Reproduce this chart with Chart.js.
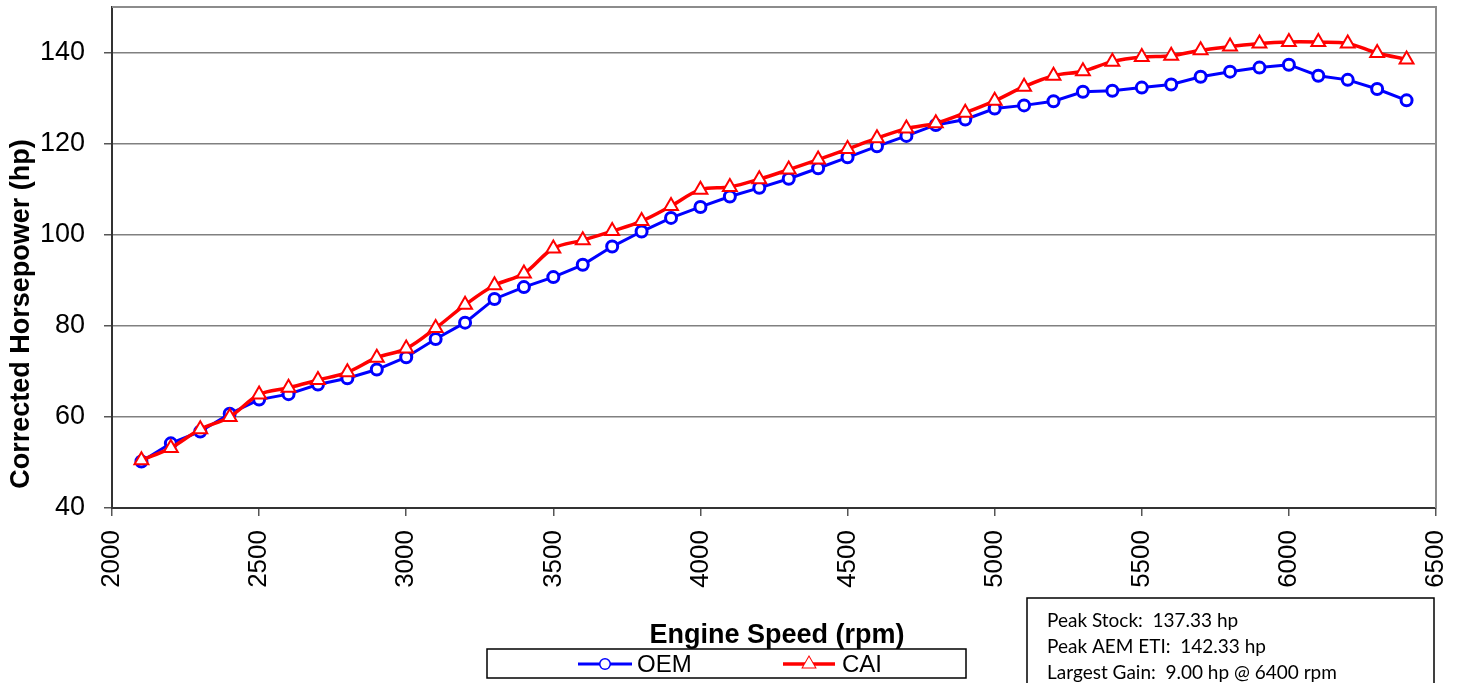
<!DOCTYPE html>
<html>
<head>
<meta charset="utf-8">
<script src="https://cdn.jsdelivr.net/npm/chart.js@4/dist/chart.umd.min.js"></script>
<style>
  html, body { margin: 0; padding: 0; background: #fff; }
  #dynoChart { display: block; }
</style>
</head>
<body>
<canvas id="dynoChart" width="1463" height="683"></canvas>
<script>
// Engine speed, rpm
const rpm = [
  2100, 2200, 2300, 2400, 2500, 2600, 2700, 2800, 2900, 3000, 3100,
  3200, 3300, 3400, 3500, 3600, 3700, 3800, 3900, 4000, 4100, 4200,
  4300, 4400, 4500, 4600, 4700, 4800, 4900, 5000, 5100, 5200, 5300,
  5400, 5500, 5600, 5700, 5800, 5900, 6000, 6100, 6200, 6300, 6400,
];

// Stock intake, hp
const oemHp = [
  50.2, 54.2, 56.8, 60.7, 63.8, 65.0, 67.1, 68.5, 70.4, 73.1, 77.1,
  80.7, 85.9, 88.5, 90.7, 93.4, 97.4, 100.7, 103.7, 106.1, 108.4, 110.3,
  112.3, 114.6, 117.0, 119.4, 121.7, 124.1, 125.3, 127.7, 128.4, 129.3, 131.4,
  131.6, 132.3, 133.0, 134.7, 135.8, 136.7, 137.33, 134.9, 134.0, 132.0, 129.5,
];

// Cold air intake, hp
const caiHp = [
  50.5, 53.2, 57.3, 60.0, 64.9, 66.4, 68.1, 69.8, 73.0, 75.0, 79.5,
  84.6, 88.9, 91.5, 97.0, 98.8, 100.8, 103.0, 106.3, 109.9, 110.5, 112.2,
  114.3, 116.5, 118.8, 121.2, 123.3, 124.5, 126.8, 129.4, 132.5, 134.9, 135.9,
  138.0, 139.0, 139.3, 140.5, 141.3, 142.0, 142.33, 142.3, 142.0, 139.9, 138.5,
];

const xTicks = [2000, 2500, 3000, 3500, 4000, 4500, 5000, 5500, 6000, 6500];
const yTicks = [40, 60, 80, 100, 120, 140];

const seriesNames = ["OEM", "CAI"];
const summaryLines = [
  "Peak Stock:  137.33 hp",
  "Peak AEM ETI:  142.33 hp",
  "Largest Gain:  9.00 hp @ 6400 rpm",
];

const AXIS_FONT = "Liberation Sans, Arial, sans-serif";

function toPoints(values) {
  return rpm.map((r, i) => ({ x: r, y: values[i] }));
}

// drop the label padding chart.js adds at the ends of each axis
function noEndPadding(scale) {
  scale.paddingTop = 0;
  scale.paddingBottom = 0;
  scale.paddingLeft = 0;
  scale.paddingRight = 0;
}

// Titles, plot frame, legend and notes box (Excel look)
const decorations = {
  id: "decorations",
  afterDraw(chart) {
    const { ctx, chartArea: a } = chart;
    ctx.save();

    // top and right frame of the plot area
    ctx.strokeStyle = "#8c8c8c";
    ctx.lineWidth = 2;
    ctx.beginPath();
    ctx.moveTo(a.left, a.top);
    ctx.lineTo(a.right, a.top);
    ctx.lineTo(a.right, a.bottom);
    ctx.stroke();

    // axis titles
    ctx.fillStyle = "#000";
    ctx.font = "bold 27px " + AXIS_FONT;
    ctx.textAlign = "center";
    ctx.textBaseline = "middle";
    ctx.fillText("Engine Speed (rpm)", 777, 636);

    ctx.save();
    ctx.translate(22, 314);
    ctx.rotate(-Math.PI / 2);
    ctx.fillText("Corrected Horsepower (hp)", 0, 0);
    ctx.restore();

    // legend
    ctx.strokeStyle = "#000";
    ctx.lineWidth = 1.5;
    ctx.strokeRect(487, 649, 479, 29);
    const ly = 664;
    const items = [
      { ds: chart.data.datasets[1], x0: 578, x1: 632, tx: 637 },
      { ds: chart.data.datasets[0], x0: 783, x1: 835, tx: 842 },
    ];
    items.forEach((it) => {
      ctx.strokeStyle = it.ds.borderColor;
      ctx.lineWidth = it.ds.borderWidth;
      ctx.beginPath();
      ctx.moveTo(it.x0, ly);
      ctx.lineTo(it.x1, ly);
      ctx.stroke();
      ctx.lineWidth = it.ds.pointBorderWidth;
      ctx.fillStyle = "#fff";
      Chart.helpers.drawPoint(ctx, {
        pointStyle: it.ds.pointStyle,
        radius: it.ds.pointRadius - 1,
        borderWidth: it.ds.pointBorderWidth,
      }, (it.x0 + it.x1) / 2, ly);
      ctx.fill();
      ctx.fillStyle = "#000";
      ctx.font = "24px " + AXIS_FONT;
      ctx.textAlign = "left";
      ctx.fillText(it.ds.label, it.tx, ly + 1);
    });

    // notes box
    ctx.strokeStyle = "#000";
    ctx.lineWidth = 1.5;
    ctx.strokeRect(1027, 598, 407, 100);
    ctx.fillStyle = "#000";
    ctx.font = "19px Lato, sans-serif";
    ctx.textAlign = "left";
    summaryLines.forEach((line, i) => {
      ctx.fillText(line, 1047, 621 + i * 26);
    });

    ctx.restore();
  },
};

const ctx = document.getElementById("dynoChart").getContext("2d");
new Chart(ctx, {
  type: "line",
  data: {
    datasets: [
      {
        label: seriesNames[1],
        data: toPoints(caiHp),
        borderColor: "#ff0000",
        borderWidth: 3.5,
        tension: 0.35,
        pointStyle: "triangle",
        pointRadius: 8,
        pointBorderWidth: 2,
        pointBorderColor: "#ff0000",
        pointBackgroundColor: "#fff",
        order: 0,
      },
      {
        label: seriesNames[0],
        data: toPoints(oemHp),
        borderColor: "#0000ff",
        borderWidth: 3,
        tension: 0,
        pointStyle: "circle",
        pointRadius: 5.5,
        pointBorderWidth: 3,
        pointBorderColor: "#0000ff",
        pointBackgroundColor: "#fff",
        order: 1,
      },
    ],
  },
  options: {
    responsive: false,
    animation: false,
    devicePixelRatio: 1,
    layout: {
      autoPadding: false,
      padding: { top: 7, right: 27, left: 0, bottom: 0 },
    },
    plugins: {
      legend: { display: false },
      tooltip: { enabled: false },
    },
    scales: {
      x: {
        type: "linear",
        min: xTicks[0],
        max: xTicks[xTicks.length - 1],
        afterBuildTicks: (scale) => {
          scale.ticks = xTicks.map((v) => ({ value: v }));
        },
        afterFit: (scale) => {
          scale.height = 175;
          noEndPadding(scale);
        },
        ticks: {
          autoSkip: false,
          minRotation: 90,
          maxRotation: 90,
          padding: 14,
          color: "#000",
          font: { family: AXIS_FONT, size: 26 },
          callback: (value) => String(value),
        },
        grid: {
          drawOnChartArea: false,
          drawTicks: true,
          tickLength: 8,
          tickColor: "#555",
          lineWidth: 1.5,
        },
        border: { color: "#333", width: 2 },
      },
      y: {
        min: 40,
        max: 150,
        afterBuildTicks: (scale) => {
          scale.ticks = yTicks.map((v) => ({ value: v }));
        },
        afterFit: (scale) => {
          scale.width = 112;
          noEndPadding(scale);
        },
        ticks: {
          padding: 19,
          color: "#000",
          font: { family: AXIS_FONT, size: 27 },
          callback: (value) => String(value),
        },
        grid: {
          color: "#808080",
          lineWidth: 1.5,
          tickLength: 8,
          tickColor: "#555",
        },
        border: { color: "#333", width: 2 },
      },
    },
  },
  plugins: [decorations],
});
</script>
</body>
</html>
